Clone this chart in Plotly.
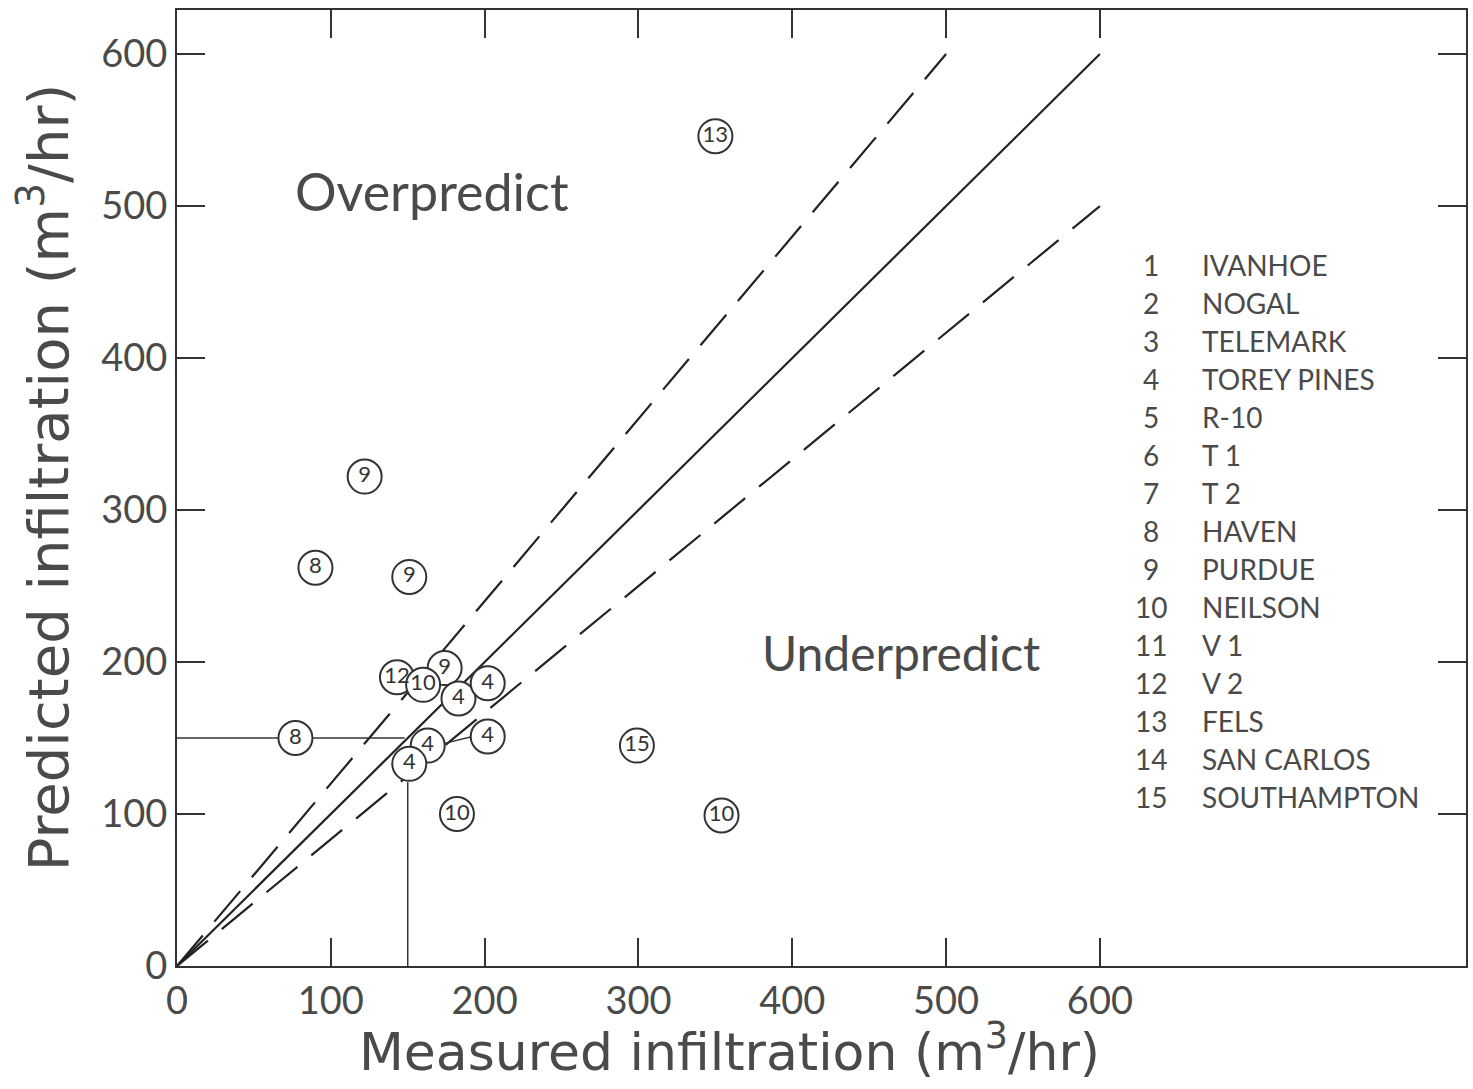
import plotly.graph_objects as go

# Data
pt_x = [350, 122, 90, 151, 143, 174, 160, 183, 202, 77, 163, 151, 202, 299, 182, 354]
pt_y = [546, 322, 262, 256, 190, 196, 185, 176, 186, 150, 145, 133, 151, 145, 100, 99]
pt_lab = ["13", "9", "8", "9", "12", "9", "10", "4", "4", "8", "4", "4", "4", "15", "10", "10"]

legend_nums = [str(i) for i in range(1, 16)]
legend_names = ["IVANHOE", "NOGAL", "TELEMARK", "TOREY PINES", "R-10", "T 1", "T 2",
                "HAVEN", "PURDUE", "NEILSON", "V 1", "V 2", "FELS", "SAN CARLOS", "SOUTHAMPTON"]

line_1to1_x = [0, 600]
line_1to1_y = [0, 600]
line_over_x = [0, 500]
line_over_y = [0, 600]
line_under_x = [0, 600]
line_under_y = [0, 500]
href_x = [0, 148]
href_y = [150, 150]
vref_x = [150, 150]
vref_y = [0, 121]
link_x = [168, 196]
link_y = [145, 152]

tickvals = [0, 100, 200, 300, 400, 500, 600]
ticktext = ["0", "100", "200", "300", "400", "500", "600"]

x_title = "Measured infiltration (m<sup>3</sup>/hr)"
y_title = "Predicted infiltration (m<sup>3</sup>/hr)"

FONT = "Lato"
TFONT = "DejaVu Sans"
TXT = "#4a4a4a"

# plot area in pixels (for placing paper-relative texts)
L, R, T, B = 177, 1468, 10, 966
def px_x(p):
    return (p - L) / (R - L)
def px_y(p):
    return (B - p) / (B - T)

fig = go.Figure()
fig.add_trace(go.Scatter(x=line_1to1_x, y=line_1to1_y, mode="lines",
                         line=dict(color="#222", width=2.2), hoverinfo="skip"))
fig.add_trace(go.Scatter(x=line_over_x, y=line_over_y, mode="lines",
                         line=dict(color="#222", width=2.2, dash="40px,18px"), hoverinfo="skip"))
fig.add_trace(go.Scatter(x=line_under_x, y=line_under_y, mode="lines",
                         line=dict(color="#222", width=2.2, dash="40px,18px"), hoverinfo="skip"))
fig.add_trace(go.Scatter(x=href_x, y=href_y, mode="lines",
                         line=dict(color="#333", width=1.5), hoverinfo="skip"))
fig.add_trace(go.Scatter(x=vref_x, y=vref_y, mode="lines",
                         line=dict(color="#333", width=1.5), hoverinfo="skip"))
fig.add_trace(go.Scatter(x=link_x, y=link_y, mode="lines",
                         line=dict(color="#333", width=1.5), hoverinfo="skip"))
fig.add_trace(go.Scatter(x=pt_x, y=pt_y, mode="markers+text", text=pt_lab,
                         textposition="middle center",
                         textfont=dict(family=FONT, size=22, color="#333"),
                         marker=dict(symbol="circle", size=34, color="white",
                                     line=dict(color="#333", width=2)),
                         hoverinfo="skip"))

# legend-like text block
for i, (n, name) in enumerate(zip(legend_nums, legend_names)):
    ypix = 265 + i * 38
    fig.add_annotation(xref="paper", yref="paper", x=px_x(1153), y=px_y(ypix),
                       text=n, showarrow=False, xanchor="center", yanchor="middle",
                       font=dict(family=FONT, size=28, color=TXT))
    fig.add_annotation(xref="paper", yref="paper", x=px_x(1202), y=px_y(ypix),
                       text=name, showarrow=False, xanchor="left", yanchor="middle",
                       font=dict(family=FONT, size=28, color=TXT))

fig.add_annotation(x=166, y=510, text="Overpredict", showarrow=False,
                   font=dict(family=FONT, size=52, color=TXT))
fig.add_annotation(x=471, y=206, text="Underpredict", showarrow=False,
                   font=dict(family=FONT, size=48, color=TXT))

# axis titles
fig.add_annotation(xref="paper", yref="paper", x=px_x(730), y=px_y(1048),
                   text=x_title, showarrow=False, xanchor="center", yanchor="middle",
                   font=dict(family=TFONT, size=52, color=TXT))
fig.add_annotation(xref="paper", yref="paper", x=px_x(44), y=px_y(477),
                   text=y_title, showarrow=False, xanchor="center", yanchor="middle",
                   textangle=-90, font=dict(family=TFONT, size=56, color=TXT))

axis_common = dict(showgrid=False, zeroline=False, showline=True, linecolor="#333",
                   linewidth=2, mirror="allticks", ticks="inside", ticklen=28,
                   tickwidth=1.5, tickcolor="#333", tickvals=tickvals, ticktext=ticktext,
                   tickfont=dict(family=FONT, size=38, color=TXT))

fig.update_xaxes(range=[0, 838], **axis_common)
fig.update_yaxes(range=[0, 629], **axis_common)

fig.update_layout(width=1473, height=1089, margin=dict(l=L, r=1473 - R, t=T, b=1089 - B),
                  plot_bgcolor="white", paper_bgcolor="white", showlegend=False)

fig.write_html("out.html")
